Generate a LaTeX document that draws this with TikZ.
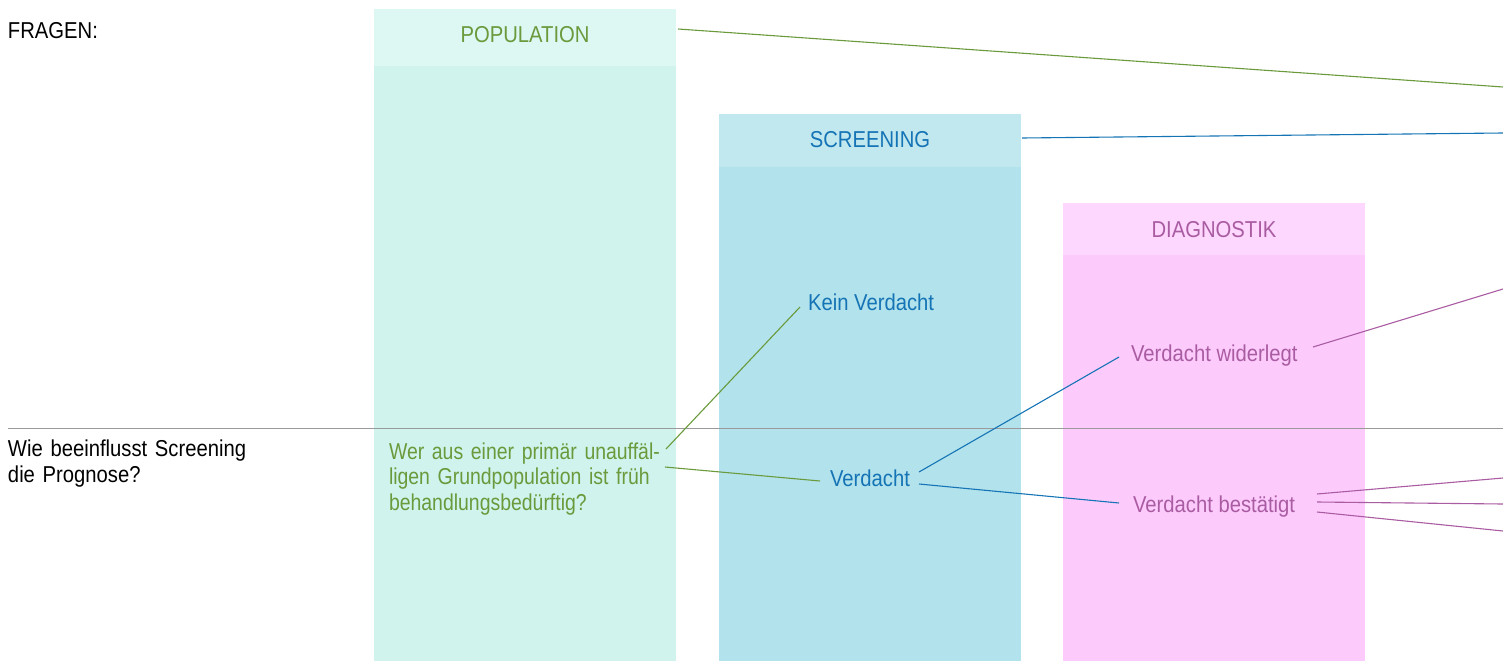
\documentclass[tikz,border=0pt]{standalone}
\usepackage{fontspec}
\setmainfont{Liberation Sans}[FakeStretch=0.88]
\newfontfamily\qfont{Liberation Sans}[FakeStretch=0.845]
\usetikzlibrary{calc}
\definecolor{popH}{HTML}{DDF7F3}
\definecolor{popB}{HTML}{D0F3ED}
\definecolor{scrH}{HTML}{C2E8EF}
\definecolor{scrB}{HTML}{B2E2EC}
\definecolor{diaH}{HTML}{FDD7FD}
\definecolor{diaB}{HTML}{FCCBFC}
\definecolor{cgreen}{HTML}{6A9A3B}
\definecolor{cblue}{HTML}{1574B5}
\definecolor{cpink}{HTML}{AA5CA2}
\definecolor{cgray}{HTML}{9A9A9A}
\begin{document}
\begin{tikzpicture}[x=1pt,y=-1pt,
  every node/.style={font=\fontsize{23}{25.5}\selectfont, inner sep=0pt, outer sep=0pt},
  panel/.style={anchor=north west, minimum width=302pt, draw=none},
  lbl/.style={anchor=base west},
  ttl/.style={anchor=base},
  conn/.style={line width=1.1pt}
]
\useasboundingbox (0,0) rectangle (1503,661);
% columns
\node[panel, fill=popB, minimum height=595pt] (popb) at (374,66) {};
\node[panel, fill=popH, minimum height=57pt] (poph) at (374,9) {};
\node[panel, fill=scrB, minimum height=494pt] (scrb) at (719,167) {};
\node[panel, fill=scrH, minimum height=53pt] (scrh) at (719,114) {};
\node[panel, fill=diaB, minimum height=406pt] (diab) at (1063,255) {};
\node[panel, fill=diaH, minimum height=52pt] (diah) at (1063,203) {};
% titles
\node[ttl, text=cgreen] (popt) at (525,42) {POPULATION};
\node[ttl, text=cblue] (scrt) at (870,147) {SCREENING};
\node[ttl, text=cpink] (diat) at (1214,237) {DIAGNOSTIK};
% separator
\coordinate (sepL) at (8,428);
\coordinate (sepR) at (1503,428);
\draw[cgray, line width=1pt] (sepL) -- (sepR);
% left texts
\node[lbl] (fr) at (8,39) {FRAGEN:};
\node[lbl, text width=300pt, align=left, font=\fontsize{23}{26}\selectfont] (wie) at (8,456) {Wie beeinflusst Screening\\die Prognose?};
% labels
\node[lbl, text width=290pt, align=left, text=cgreen, font=\qfont\fontsize{23}{25.5}\selectfont] (q) at (389,459) {Wer aus einer primär unauffäl-\\ligen Grundpopulation ist früh\\behandlungsbedürftig?};
\node[lbl, text=cblue] (kv) at (808,310) {Kein Verdacht};
\node[lbl, text=cblue] (v) at (830,486) {Verdacht};
\node[lbl, text=cpink] (w) at (1131,361) {Verdacht widerlegt};
\node[lbl, text=cpink] (b) at (1133,512) {Verdacht bestätigt};
% free ends
\coordinate (e1) at (1503,87);
\coordinate (e2) at (1503,133);
\coordinate (e3) at (1503,289);
\coordinate (e4) at (1503,478);
\coordinate (e5) at (1503,504);
\coordinate (e6) at (1503,531);
% connectors
\draw[conn, cgreen] ($(poph.north east)+(2,20)$) -- (e1);
\draw[conn, cblue] ($(scrh.north east)+(1,24)$) -- (e2);
\draw[conn, cgreen] ($(q.base west)+(277,-10)$) -- ($(kv.base west)+(-8,-3)$);
\draw[conn, cgreen] ($(q.base west)+(276,8)$) -- ($(v.base west)+(-10,-5)$);
\draw[conn, cblue] ($(v.base west)+(89,-14)$) -- ($(w.base west)+(-12,-4)$);
\draw[conn, cblue] ($(v.base west)+(89,-2)$) -- ($(b.base west)+(-14,-9)$);
\draw[conn, cpink] ($(w.base west)+(182,-14)$) -- (e3);
\draw[conn, cpink] ($(b.base west)+(184,-18)$) -- (e4);
\draw[conn, cpink] ($(b.base west)+(184,-10)$) -- (e5);
\draw[conn, cpink] ($(b.base west)+(184,0)$) -- (e6);
\end{tikzpicture}
\end{document}
